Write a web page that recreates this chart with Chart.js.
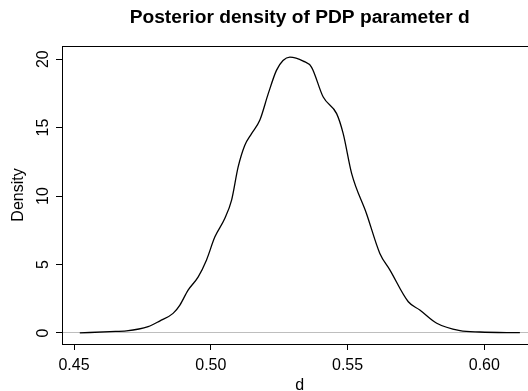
<!DOCTYPE html>
<html>
<head>
<meta charset="utf-8">
<script src="https://cdn.jsdelivr.net/npm/chart.js@4/dist/chart.umd.min.js"></script>
<style>
  html, body { margin: 0; padding: 0; background: #fff; overflow: hidden; }
  #wrap { width: 560px; height: 391px; overflow: hidden; }
</style>
</head>
<body>
<div id="wrap"><canvas id="c" width="560" height="395"></canvas></div>
<script>
// Kernel density estimate of the posterior draws of d
const dValues = [0.4521, 0.4631, 0.4692, 0.4771, 0.4813, 0.4862, 0.4887, 0.4917, 0.4954, 0.4984,
                 0.5015, 0.5051, 0.5076, 0.5100, 0.5124, 0.5149, 0.5179, 0.5210, 0.5240, 0.5264,
                 0.5289, 0.5338, 0.5368, 0.5411, 0.5460, 0.5484, 0.5515, 0.5569, 0.5618, 0.5655,
                 0.5722, 0.5764, 0.5826, 0.5911, 0.5984, 0.6130];
const densityValues = [0.00, 0.10, 0.15, 0.46, 0.87, 1.43, 2.04, 3.13, 4.10, 5.32,
                       7.02, 8.36, 9.70, 12.13, 13.70, 14.56, 15.53, 17.48, 19.18, 19.90,
                       20.15, 19.86, 19.42, 17.23, 16.02, 14.56, 11.64, 8.73, 5.81, 4.59,
                       2.28, 1.68, 0.71, 0.17, 0.07, 0.02];

// Axis ticks and limits
const xTicks = [0.45, 0.50, 0.55, 0.60];
const yTicks = [0, 5, 10, 15, 20];
const xLimits = [0.4456, 0.6194];
const yLimits = [-0.806, 20.96];

const titleText = 'Posterior density of PDP parameter d';
const xLabel = 'd';
const yLabel = 'Density';

const FONT = 'Liberation Sans, Arial, Helvetica, sans-serif';

// Frame around the plotting region
const boxPlugin = {
  id: 'box',
  afterDraw(chart) {
    const a = chart.chartArea;
    const ctx = chart.ctx;
    ctx.save();
    ctx.strokeStyle = '#000';
    ctx.lineWidth = 1;
    ctx.strokeRect(Math.round(a.left) + 0.5, Math.round(a.top) + 0.5,
                   Math.round(a.right - a.left), Math.round(a.bottom - a.top));
    ctx.restore();
  }
};

new Chart(document.getElementById('c'), {
  type: 'line',
  data: {
    datasets: [{
      data: dValues.map((x, i) => ({ x: x, y: densityValues[i] })),
      borderColor: '#000',
      borderWidth: 1.3,
      pointRadius: 0,
      fill: false,
      cubicInterpolationMode: 'monotone'
    }]
  },
  options: {
    responsive: false,
    animation: false,
    events: [],
    layout: { padding: { left: 0, right: 22.6, top: 0, bottom: 0 } },
    plugins: {
      legend: { display: false },
      tooltip: { enabled: false },
      title: {
        display: true,
        fullSize: false,
        text: titleText,
        color: '#000',
        font: { family: FONT, size: 19.2, weight: 'bold', lineHeight: 1.2 },
        padding: { top: 6.3, bottom: 16.66 }
      }
    },
    scales: {
      x: {
        type: 'linear',
        min: xLimits[0],
        max: xLimits[1],
        afterBuildTicks(scale) { scale.ticks = xTicks.map(v => ({ value: v })); },
        afterFit(scale) { scale.height = 51; scale.paddingLeft = 0; scale.paddingRight = 0; },
        border: { display: true, color: '#000', width: 1 },
        grid: { drawOnChartArea: false, drawTicks: true, tickLength: 6, tickColor: '#000', tickWidth: 1 },
        ticks: {
          autoSkip: false,
          maxRotation: 0,
          padding: 6,
          color: '#000',
          font: { family: FONT, size: 16 },
          callback: v => v.toFixed(2)
        },
        title: {
          display: true,
          text: xLabel,
          color: '#000',
          font: { family: FONT, size: 16 },
          padding: { top: 1.4, bottom: 0 }
        }
      },
      y: {
        type: 'linear',
        min: yLimits[0],
        max: yLimits[1],
        afterBuildTicks(scale) { scale.ticks = yTicks.map(v => ({ value: v })); },
        afterFit(scale) { scale.width = 62; scale.paddingTop = 0; scale.paddingBottom = 0; },
        border: { display: true, color: '#000', width: 1 },
        grid: {
          drawOnChartArea: true,
          drawTicks: true,
          tickLength: 6,
          tickColor: '#000',
          tickWidth: 1,
          lineWidth: 1,
          color: ctx => (ctx.tick && ctx.tick.value === 0) ? '#bebebe' : 'rgba(0,0,0,0)'
        },
        ticks: {
          autoSkip: false,
          minRotation: 90,
          maxRotation: 90,
          crossAlign: 'center',
          padding: 4,
          color: '#000',
          font: { family: FONT, size: 16 },
          callback: v => String(v)
        },
        title: {
          display: true,
          text: yLabel,
          color: '#000',
          font: { family: FONT, size: 16 },
          padding: { top: 9.4, bottom: 0 }
        }
      }
    }
  },
  plugins: [boxPlugin]
});
</script>
</body>
</html>
